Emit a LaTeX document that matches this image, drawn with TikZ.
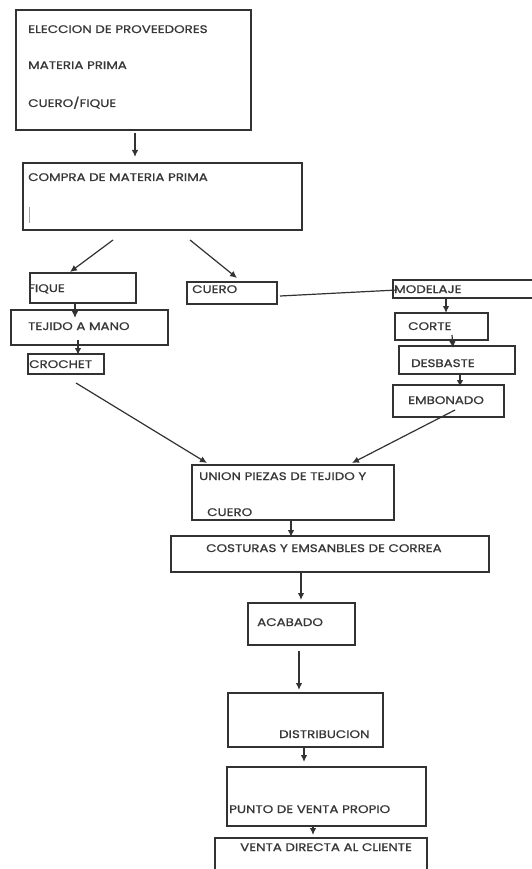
\documentclass[tikz,border=0pt]{standalone}
\usepackage{fontspec}
\setmainfont{Poppins}[FakeStretch=1.22,FakeBold=0.9]
\usetikzlibrary{arrows.meta}
\definecolor{ln}{RGB}{50,50,50}
\definecolor{tx}{RGB}{55,55,55}
\tikzset{
  box/.style={draw=ln, line width=1.5pt, rectangle, inner sep=0pt, outer sep=0pt},
  lbl/.style={anchor=base west, inner sep=0pt, text=tx, font=\fontsize{11}{13}\selectfont},
  arr/.style={draw=ln, line width=1.2pt, -{Latex[length=7pt,width=6.5pt]}},
  plain/.style={draw=ln, line width=1.2pt}
}
\newcommand{\bx}[5]{\node[box, anchor=north west, minimum width=#4pt-#2pt, minimum height=#5pt-#3pt] (#1) at (#2,#3) {};}
\begin{document}
\begin{tikzpicture}[x=1pt,y=-1pt]
\useasboundingbox (0,0) rectangle (532,869);
\clip (0,0) rectangle (532,869);
\fill[white] (0,0) rectangle (532,869);
% boxes
\bx{b1}{16}{10}{251}{130}
\bx{b2}{23}{163}{302}{230}
\bx{fique}{30}{273}{136}{303}
\bx{tejido}{11}{310}{168}{345}
\bx{crochet}{28}{354}{104}{374}
\bx{cuero}{187}{282}{277}{304}
\bx{modelaje}{393}{280}{545}{298}
\bx{corte}{395}{313}{488}{340}
\bx{desbaste}{399}{346}{515}{374}
\bx{embonado}{393}{385}{504}{417}
\bx{union}{192}{465}{394}{520}
\bx{costuras}{171}{536}{489}{572}
\bx{acabado}{248}{603}{355}{645}
\bx{distrib}{228}{693}{383}{747}
\bx{punto}{227}{767}{426}{826}
\bx{venta}{215}{838}{427}{885}
% texts
\node[lbl] (t1) at (28,33) {ELECCION DE PROVEEDORES};
\node[lbl] (t2) at (28,69) {MATERIA PRIMA};
\node[lbl] (t3) at (28,107) {CUERO/FIQUE};
\node[lbl] (t4) at (28,181) {COMPRA DE MATERIA PRIMA};
\node[lbl] (t5) at (28,292) {FIQUE};
\node[lbl] (t6) at (28,330) {TEJIDO A MANO};
\node[lbl] (t7) at (29,368) {CROCHET};
\node[lbl] (t8) at (192,293) {CUERO};
\node[lbl] (t9) at (394,293) {MODELAJE};
\node[lbl] (t10) at (408,330) {CORTE};
\node[lbl] (t11) at (411,367) {DESBASTE};
\node[lbl] (t12) at (408,404) {EMBONADO};
\node[lbl] (t13) at (199,480) {UNION PIEZAS DE TEJIDO Y};
\node[lbl] (t14) at (207,516) {CUERO};
\node[lbl] (t15) at (206,552) {COSTURAS Y EMSANBLES DE CORREA};
\node[lbl] (t16) at (257,626) {ACABADO};
\node[lbl] (t17) at (279,738) {DISTRIBUCION};
\node[lbl] (t18) at (229,813) {PUNTO DE VENTA PROPIO};
\node[lbl] (t19) at (240,851) {VENTA DIRECTA AL CLIENTE};
% cursor mark
\draw[black!35, line width=0.8pt] (29,207) -- (29,223);
% connector coordinates
\coordinate (a1s) at (135,133); \coordinate (a1e) at (135,157);
\coordinate (a2s) at (113,240); \coordinate (a2e) at (70,272);
\coordinate (a3s) at (190,240); \coordinate (a3e) at (237,278);
\coordinate (a4s) at (75,303);  \coordinate (a4e) at (75,318);
\coordinate (a5s) at (78,340);  \coordinate (a5e) at (78,355);
\coordinate (l1s) at (280,296); \coordinate (l1e) at (397,290);
\coordinate (a6s) at (446,298); \coordinate (a6e) at (446,313);
\coordinate (a7s) at (452,335); \coordinate (a7e) at (453,348);
\coordinate (a8s) at (460,374); \coordinate (a8e) at (460,387);
\coordinate (a9s) at (76,383);  \coordinate (a9e) at (207,463);
\coordinate (a10s) at (455,410); \coordinate (a10e) at (352,463);
\coordinate (a11s) at (291,520); \coordinate (a11e) at (291,537);
\coordinate (a12s) at (301,573); \coordinate (a12e) at (301,600);
\coordinate (a13s) at (299,651); \coordinate (a13e) at (299,690);
\coordinate (a14s) at (304,747); \coordinate (a14e) at (304,762);
\coordinate (a15s) at (313,826); \coordinate (a15e) at (313,835);
\draw[arr] (a1s) -- (a1e);
\draw[arr] (a2s) -- (a2e);
\draw[arr] (a3s) -- (a3e);
\draw[arr] (a4s) -- (a4e);
\draw[arr] (a5s) -- (a5e);
\draw[plain] (l1s) -- (l1e);
\draw[arr] (a6s) -- (a6e);
\draw[arr] (a7s) -- (a7e);
\draw[arr] (a8s) -- (a8e);
\draw[arr] (a9s) -- (a9e);
\draw[arr] (a10s) -- (a10e);
\draw[arr] (a11s) -- (a11e);
\draw[arr] (a12s) -- (a12e);
\draw[arr] (a13s) -- (a13e);
\draw[arr] (a14s) -- (a14e);
\draw[arr] (a15s) -- (a15e);
\end{tikzpicture}
\end{document}
